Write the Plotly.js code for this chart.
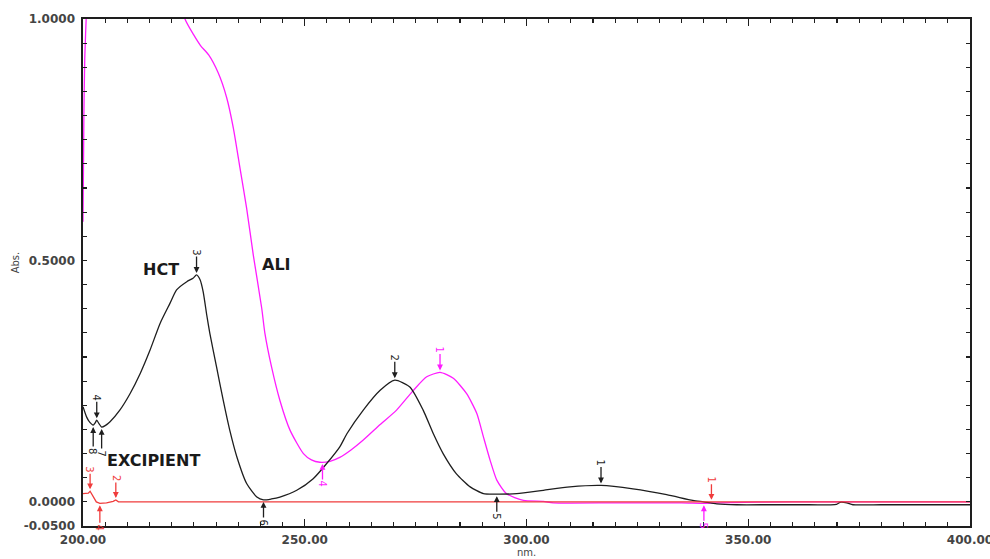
<!DOCTYPE html>
<html>
<head>
<meta charset="utf-8">
<script src="https://cdn.plot.ly/plotly-3.0.1.min.js"></script>
<style>
  html, body { margin: 0; padding: 0; background: #ffffff; }
  #chart { width: 990px; height: 559px; }
</style>
</head>
<body>
<div id="chart"></div>
<script>
// ---- HCT spectrum (black) ----
var hctX = [200.0, 200.8, 201.5, 202.3, 202.7, 203.1, 203.6, 204.2, 205.0, 206.1, 208.3, 210.6, 212.9, 215.1, 217.4, 219.6, 221.1, 223.4, 224.8, 225.6, 226.4, 227.1, 227.9, 228.6, 230.1, 231.6, 233.1, 234.7, 236.9, 239.2, 240.7, 242.5, 244.4, 248.2, 251.9, 254.9, 257.9, 259.5, 263.2, 267.0, 270.3, 273.7, 276.7, 279.0, 281.2, 284.2, 287.3, 290.3, 293.3, 297.8, 303.8, 309.8, 316.8, 324.0, 331.6, 337.5, 339.9, 342.9, 347.4, 355.0, 362.0, 369.9, 370.7, 372.2, 373.6, 380.0, 390.0, 400.0];
var hctY = [0.197, 0.176, 0.165, 0.159, 0.163, 0.169, 0.162, 0.155, 0.158, 0.166, 0.190, 0.224, 0.266, 0.314, 0.370, 0.411, 0.439, 0.456, 0.463, 0.470, 0.460, 0.435, 0.387, 0.349, 0.280, 0.211, 0.148, 0.093, 0.038, 0.010, 0.004, 0.006, 0.010, 0.024, 0.048, 0.079, 0.114, 0.141, 0.190, 0.231, 0.252, 0.238, 0.190, 0.141, 0.100, 0.058, 0.031, 0.017, 0.016, 0.017, 0.024, 0.031, 0.034, 0.027, 0.015, 0.003, 0.000, -0.004, -0.006, -0.006, -0.006, -0.005, -0.001, -0.002, -0.006, -0.006, -0.006, -0.006];

// ---- ALI spectrum (magenta) ----
var aliX = [200.0, 200.2, 200.4, 200.8, 201.5, 205.0, 215.0, 221.0, 222.3, 223.0, 224.9, 226.5, 228.3, 230.5, 232.4, 233.9, 235.4, 236.9, 238.4, 240.3, 241.0, 242.5, 244.4, 246.7, 249.7, 251.5, 253.4, 255.7, 257.9, 260.5, 263.2, 267.0, 270.7, 274.5, 277.5, 280.5, 283.5, 286.5, 288.8, 290.3, 291.8, 293.3, 295.5, 299.3, 303.8, 306.0, 320.0, 335.0, 340.0, 343.0, 360.0, 400.0];
var aliY = [0.58, 0.80, 0.92, 1.02, 1.15, 1.30, 1.30, 1.12, 1.04, 1.00, 0.968, 0.945, 0.926, 0.888, 0.837, 0.774, 0.691, 0.608, 0.511, 0.401, 0.350, 0.280, 0.210, 0.148, 0.100, 0.087, 0.082, 0.084, 0.092, 0.108, 0.128, 0.160, 0.190, 0.231, 0.259, 0.268, 0.256, 0.224, 0.183, 0.134, 0.086, 0.045, 0.017, 0.003, 0.001, -0.002, -0.002, -0.002, -0.003, -0.002, 0.000, 0.000];

// ---- EXCIPIENT spectrum (red) ----
var excX = [200.0, 201.2, 201.6, 202.2, 203.0, 203.8, 205.3, 206.8, 207.4, 208.0, 250.0, 300.0, 341.7, 350.0, 400.0];
var excY = [0.017, 0.018, 0.022, 0.012, 0.000, -0.003, -0.002, 0.001, 0.004, 0.000, 0.000, 0.000, 0.000, 0.000, 0.000];

// ---- peak / valley picks (wavelength, label) ----
var hctPeakX = [316.8, 270.3, 225.6, 203.1];
var hctPeakLabels = ['1', '2', '3', '4'];
var hctValleyX = [293.3, 240.7, 204.2, 202.3];
var hctValleyLabels = ['5', '6', '7', '8'];
var aliPeakX = [280.5];
var aliPeakLabels = ['1'];
var aliValleyX = [254.0, 340.0];
var aliValleyLabels = ['4', '5'];
var excPeakX = [341.7, 207.4, 201.6];
var excPeakLabels = ['1', '2', '3'];
var excValleyX = [203.8];
var excValleyLabels = ['4'];

// ---- axis ticks ----
var xTickVals = [200, 250, 300, 350, 400];
var xTickLabels = ['200.00', '250.00', '300.00', '350.00', '400.00'];
var yTickVals = [-0.05, 0, 0.5, 1.0];
var yTickLabels = ['-0.0500', '0.0000', '0.5000', '1.0000'];

// ---- curve name labels ----
var nameLabels = ['HCT', 'ALI', 'EXCIPIENT'];
var nameX = [217.5, 243.6, 215.9];
var nameY = [0.482, 0.491, 0.085];

var BLACK = '#1e1e1e', MAGENTA = '#ff1cff', RED = '#f03c3c';

function interp(xs, ys, x) {
  for (var i = 0; i < xs.length - 1; i++) {
    if (x >= xs[i] && x <= xs[i + 1]) {
      var t = (x - xs[i]) / (xs[i + 1] - xs[i]);
      return ys[i] + t * (ys[i + 1] - ys[i]);
    }
  }
  return ys[ys.length - 1];
}

var annotations = [];
function addPicks(xs, ys, px, labels, color, isPeak, len) {
  for (var i = 0; i < px.length; i++) {
    annotations.push({
      x: px[i], y: interp(xs, ys, px[i]), xref: 'x', yref: 'y',
      text: labels[i], textangle: 90,
      showarrow: true, arrowhead: 2, arrowsize: 0.9, arrowwidth: 1.3,
      arrowcolor: color, standoff: 2,
      ax: 0, ay: isPeak ? -len : len,
      font: {family: 'DejaVu Sans', size: 10, color: color}
    });
  }
}
addPicks(hctX, hctY, hctPeakX, hctPeakLabels, BLACK, true, 23);
addPicks(hctX, hctY, hctValleyX.slice(0, 2), hctValleyLabels.slice(0, 2), BLACK, false, 22);
addPicks(hctX, hctY, hctValleyX.slice(2), hctValleyLabels.slice(2), BLACK, false, 26);
addPicks(aliX, aliY, aliPeakX, aliPeakLabels, MAGENTA, true, 23);
addPicks(aliX, aliY, aliValleyX, aliValleyLabels, MAGENTA, false, 22);
addPicks(excX, excY, excPeakX, excPeakLabels, RED, true, 22);
addPicks(excX, excY, excValleyX, excValleyLabels, RED, false, 24);

for (var k = 0; k < nameLabels.length; k++) {
  annotations.push({
    x: nameX[k], y: nameY[k], xref: 'x', yref: 'y', text: nameLabels[k],
    showarrow: false,
    font: {family: 'DejaVu Sans', size: 16, color: '#1a1a1a', weight: 'bold'}
  });
}

// axis titles placed like the instrument printout
annotations.push({
  x: -0.0767, y: 0.52, xref: 'paper', yref: 'paper', text: 'Abs.', textangle: -90,
  showarrow: false, xanchor: 'center', yanchor: 'middle',
  font: {family: 'DejaVu Sans', size: 10, color: '#444444'}
});
annotations.push({
  x: 0.5, y: -0.0513, xref: 'paper', yref: 'paper', text: 'nm.',
  showarrow: false, xanchor: 'center', yanchor: 'middle',
  font: {family: 'DejaVu Sans', size: 10, color: '#444444'}
});

var traces = [
  {x: aliX, y: aliY, mode: 'lines', line: {color: MAGENTA, width: 1.3, shape: 'spline', smoothing: 0.6}, name: 'ALI', hoverinfo: 'x+y'},
  {x: hctX, y: hctY, mode: 'lines', line: {color: BLACK, width: 1.3, shape: 'spline', smoothing: 0.6}, name: 'HCT', hoverinfo: 'x+y'},
  {x: excX, y: excY, mode: 'lines', line: {color: RED, width: 1.3}, name: 'EXCIPIENT', hoverinfo: 'x+y'}
];

var tickFont = {family: 'DejaVu Sans', size: 12, color: '#444444', weight: 'bold'};

var layout = {
  width: 990, height: 559,
  margin: {l: 83, r: 20, t: 19, b: 33},
  paper_bgcolor: '#ffffff', plot_bgcolor: '#ffffff',
  showlegend: false,
  xaxis: {
    range: [200, 400], tickmode: 'array', tickvals: xTickVals, ticktext: xTickLabels,
    ticks: 'inside', ticklen: 7, tickwidth: 1.3, tickcolor: BLACK,
    minor: {dtick: 5, tick0: 200, ticks: 'inside', ticklen: 4, tickwidth: 1.1, tickcolor: BLACK, showgrid: false},
    showline: true, linecolor: BLACK, linewidth: 1.6, mirror: 'ticks',
    showgrid: false, zeroline: false, ticklabeloverflow: 'allow',
    tickfont: tickFont, ticklabelstandoff: 2
  },
  yaxis: {
    range: [-0.05, 1.0], tickmode: 'array', tickvals: yTickVals, ticktext: yTickLabels,
    ticks: 'inside', ticklen: 4, tickwidth: 1.1, tickcolor: BLACK,
    minor: {dtick: 0.05, tick0: 0, ticks: 'inside', ticklen: 4, tickwidth: 1.1, tickcolor: BLACK, showgrid: false},
    showline: true, linecolor: BLACK, linewidth: 1.6, mirror: 'ticks',
    showgrid: false, zeroline: false, ticklabeloverflow: 'allow',
    tickfont: tickFont, ticklabelstandoff: 4
  },
  annotations: annotations
};

Plotly.newPlot('chart', traces, layout, {staticPlot: true, displayModeBar: false});
</script>
</body>
</html>
